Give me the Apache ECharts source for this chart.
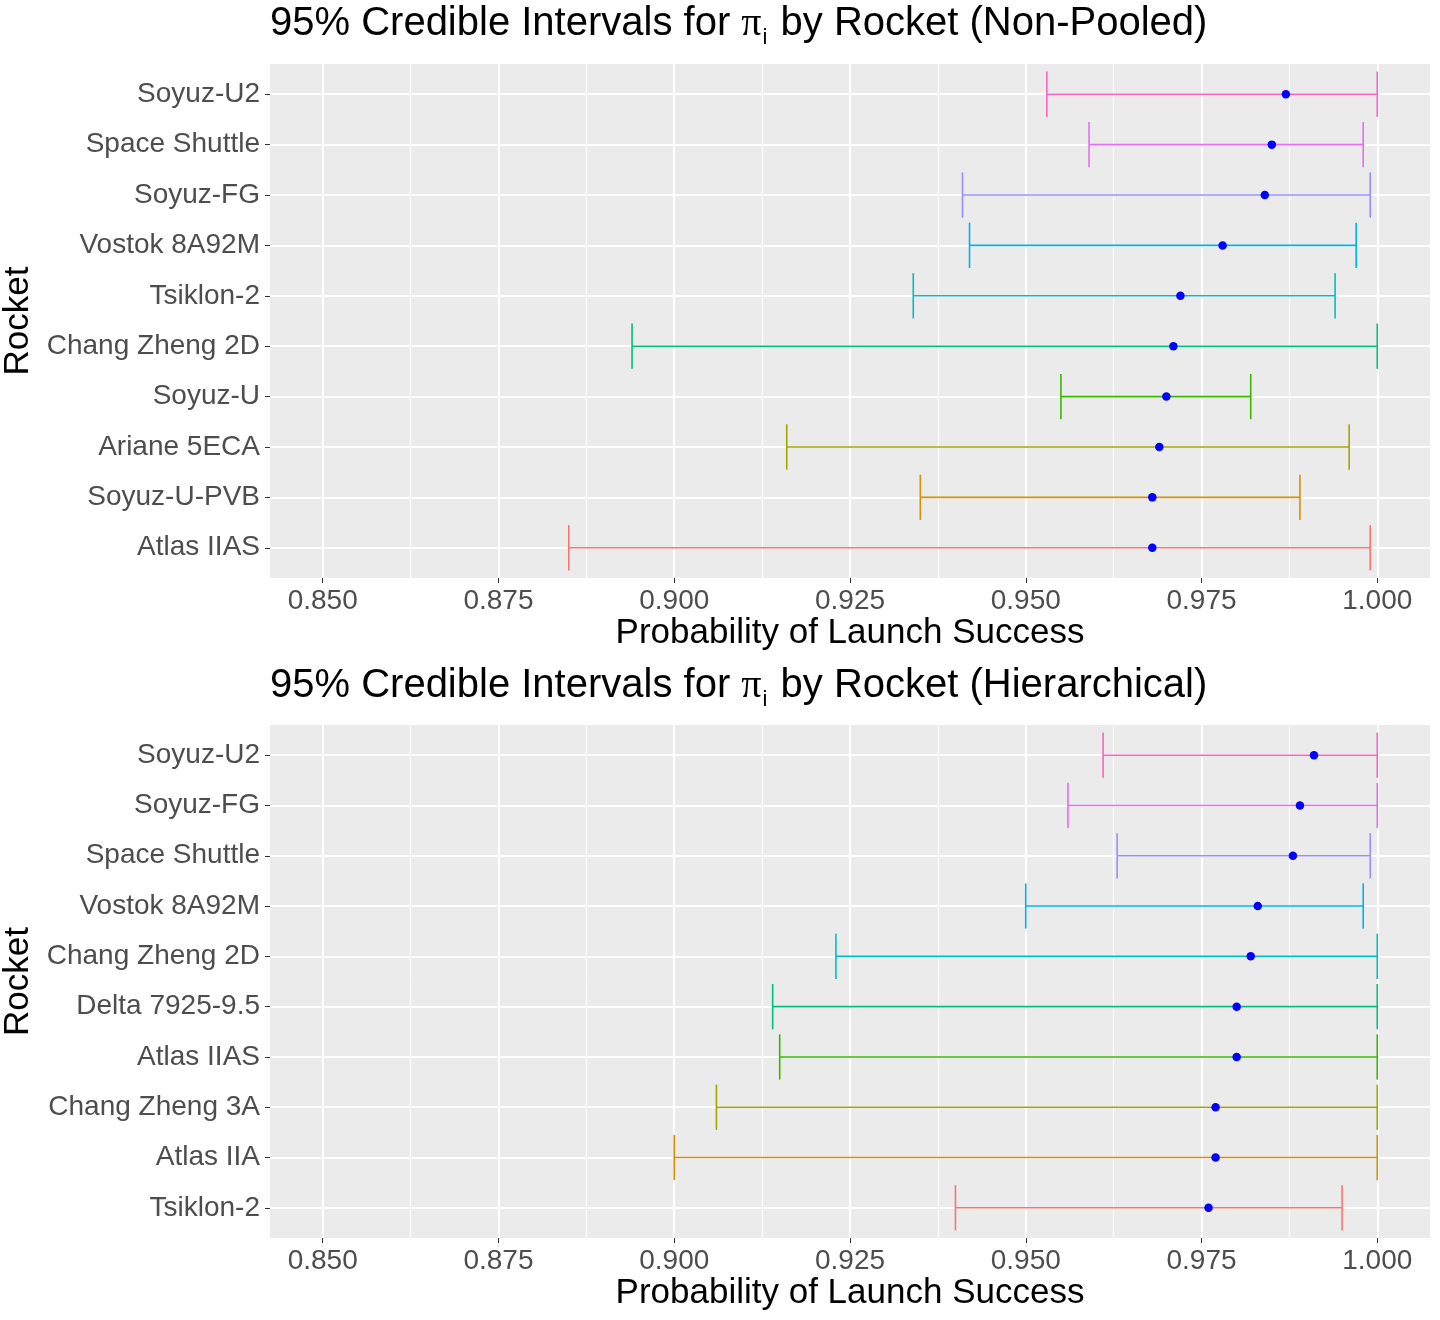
<!DOCTYPE html>
<html>
<head>
<meta charset="utf-8">
<script src="https://cdn.jsdelivr.net/npm/echarts@6/dist/echarts.min.js"></script>
<style>
  html, body { margin: 0; background: #fff; }
  #main { width: 1440px; height: 1320px; }
</style>
</head>
<body>
<div id="main"></div>
<script>
// rows are listed bottom first, same order as the factor levels in the plot

// non-pooled model
const nonPooledRockets = ['Atlas IIAS', 'Soyuz-U-PVB', 'Ariane 5ECA', 'Soyuz-U', 'Chang Zheng 2D',
  'Tsiklon-2', 'Vostok 8A92M', 'Soyuz-FG', 'Space Shuttle', 'Soyuz-U2'];
const nonPooledLower = [0.885, 0.935, 0.916, 0.955, 0.894, 0.934, 0.942, 0.941, 0.959, 0.953];
const nonPooledMean = [0.968, 0.968, 0.969, 0.970, 0.971, 0.972, 0.978, 0.984, 0.985, 0.987];
const nonPooledUpper = [0.999, 0.989, 0.996, 0.982, 1.000, 0.994, 0.997, 0.999, 0.998, 1.000];

// hierarchical model
const hierRockets = ['Tsiklon-2', 'Atlas IIA', 'Chang Zheng 3A', 'Atlas IIAS', 'Delta 7925-9.5',
  'Chang Zheng 2D', 'Vostok 8A92M', 'Space Shuttle', 'Soyuz-FG', 'Soyuz-U2'];
const hierLower = [0.940, 0.900, 0.906, 0.915, 0.914, 0.923, 0.950, 0.963, 0.956, 0.961];
const hierMean = [0.976, 0.977, 0.977, 0.980, 0.980, 0.982, 0.983, 0.988, 0.989, 0.991];
const hierUpper = [0.995, 1.000, 1.000, 1.000, 1.000, 1.000, 0.998, 0.999, 1.000, 1.000];

// ggplot default hue palette, 10 levels
const hueColors = ['#F8766D', '#D89000', '#A3A500', '#39B600', '#00BF7D',
  '#00BFC4', '#00B0F6', '#9590FF', '#E76BF3', '#FF62BC'];

const xTicks = [0.85, 0.875, 0.9, 0.925, 0.95, 0.975, 1.0];
const xMinorTicks = [0.8625, 0.8875, 0.9125, 0.9375, 0.9625, 0.9875];
const rowTicks = [1, 2, 3, 4, 5, 6, 7, 8, 9, 10];

const chart = echarts.init(document.getElementById('main'));

const FONT = 'Liberation Sans';

function titleText(model) {
  return '{t|95% Credible Intervals for }{p|π}{s|i}{t| by Rocket (' + model + ')}';
}

const titleRich = {
  t: { fontFamily: FONT, fontSize: 40, fontWeight: 'normal', color: '#000', lineHeight: 44, verticalAlign: 'top' },
  p: { fontFamily: 'Liberation Serif', fontSize: 40, fontWeight: 'normal', color: '#000', lineHeight: 44, verticalAlign: 'top' },
  s: { fontFamily: FONT, fontSize: 22, fontWeight: 'normal', color: '#000', lineHeight: 22, verticalAlign: 'top', padding: [23, 2, 0, 1] }
};

// horizontal error bar with caps
function errorBar(params, api) {
  const row = api.value(2);
  const a = api.coord([api.value(0), row]);
  const b = api.coord([api.value(1), row]);
  const half = api.size([0, 0.9])[1] / 2;
  const style = { stroke: hueColors[params.dataIndex], lineWidth: 1.6 };
  return {
    type: 'group',
    children: [
      { type: 'line', shape: { x1: a[0], y1: a[1], x2: b[0], y2: b[1] }, style: style },
      { type: 'line', shape: { x1: a[0], y1: a[1] - half, x2: a[0], y2: a[1] + half }, style: style },
      { type: 'line', shape: { x1: b[0], y1: b[1] - half, x2: b[0], y2: b[1] + half }, style: style }
    ]
  };
}

const grids = [
  { left: 270, right: 10, top: 64, height: 514 },
  { left: 270, right: 10, top: 725, height: 513 }
].map(g => Object.assign(g, {
  show: true, backgroundColor: '#EBEBEB', borderWidth: 0, containLabel: false, outerBoundsMode: 'none'
}));

function majorX(gridIndex) {
  return {
    type: 'value', gridIndex: gridIndex, min: 0.8425, max: 1.0075,
    axisLine: { show: false },
    axisTick: { show: true, length: 5, customValues: xTicks, lineStyle: { color: '#333', width: 1 } },
    axisLabel: {
      customValues: xTicks, margin: 9, fontFamily: FONT, fontSize: 28, color: '#4D4D4D',
      formatter: v => v.toFixed(3)
    },
    splitLine: { show: true, lineStyle: { color: '#fff', width: 2 } },
    name: 'Probability of Launch Success', nameLocation: 'middle', nameGap: 37,
    nameTextStyle: { fontFamily: FONT, fontSize: 35, color: '#000' }
  };
}

function minorX(gridIndex) {
  return {
    type: 'value', gridIndex: gridIndex, min: 0.8425, max: 1.0075,
    axisLine: { show: false },
    axisTick: { show: false, customValues: xMinorTicks },
    axisLabel: { show: false, customValues: xMinorTicks },
    splitLine: { show: true, lineStyle: { color: '#fff', width: 1 } }
  };
}

function rowAxis(gridIndex, names) {
  return {
    type: 'value', gridIndex: gridIndex, min: 0.4, max: 10.6,
    axisLine: { show: false },
    axisTick: { show: true, length: 5, customValues: rowTicks, lineStyle: { color: '#333', width: 1 } },
    axisLabel: {
      customValues: rowTicks, margin: 10, fontFamily: FONT, fontSize: 28, color: '#4D4D4D',
      formatter: v => names[Math.round(v) - 1]
    },
    splitLine: { show: true, lineStyle: { color: '#fff', width: 2 } },
    name: 'Rocket', nameLocation: 'middle', nameGap: 219, nameRotate: 90,
    nameTextStyle: { fontFamily: FONT, fontSize: 35, color: '#000' }
  };
}

function panelSeries(xAxisIndex, yAxisIndex, lower, mean, upper) {
  return [
    {
      type: 'custom', xAxisIndex: xAxisIndex, yAxisIndex: yAxisIndex, z: 2,
      renderItem: errorBar,
      encode: { x: [0, 1], y: 2 },
      data: lower.map((lo, i) => [lo, upper[i], i + 1])
    },
    {
      type: 'scatter', xAxisIndex: xAxisIndex, yAxisIndex: yAxisIndex, z: 3,
      symbolSize: 8.5, itemStyle: { color: '#0000FF', opacity: 1 },
      data: mean.map((m, i) => [m, i + 1])
    }
  ];
}

const option = {
  animation: false,
  backgroundColor: '#fff',
  title: [
    { text: titleText('Non-Pooled'), left: 270, top: 4, padding: 0, textStyle: { fontWeight: 'normal', rich: titleRich } },
    { text: titleText('Hierarchical'), left: 270, top: 666, padding: 0, textStyle: { fontWeight: 'normal', rich: titleRich } }
  ],
  grid: grids,
  xAxis: [majorX(0), minorX(0), majorX(1), minorX(1)],
  yAxis: [rowAxis(0, nonPooledRockets), rowAxis(1, hierRockets)],
  series: [
    ...panelSeries(0, 0, nonPooledLower, nonPooledMean, nonPooledUpper),
    ...panelSeries(2, 1, hierLower, hierMean, hierUpper)
  ]
};

chart.setOption(option);
</script>
</body>
</html>
